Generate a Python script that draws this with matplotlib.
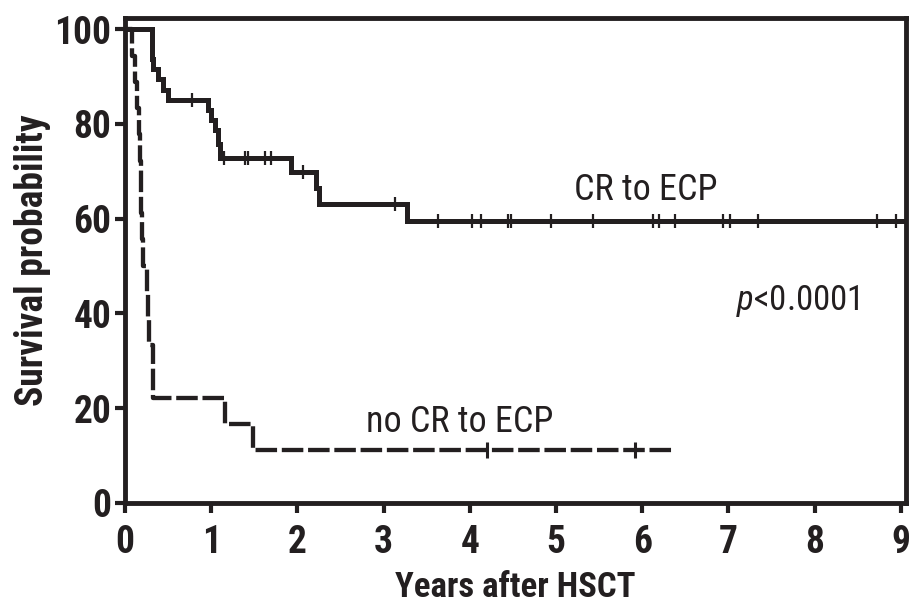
import matplotlib
matplotlib.use("Agg")
import matplotlib.pyplot as plt
from matplotlib import font_manager as fm
import numpy as np

# Pick a narrow sans-serif face for all text, with DejaVu Sans as the fallback
_installed = {f.name for f in fm.fontManager.ttflist}
_stretch = 'normal'
for _name in ['Liberation Sans Narrow', 'Roboto Condensed', 'Open Sans Condensed',
              'Noto Sans Condensed', 'DejaVu Sans Condensed']:
    if _name in _installed:
        FAMILY = _name
        break
else:
    FAMILY = 'DejaVu Sans'
    if any(f.name == 'DejaVu Sans' and f.stretch in ('condensed', 'semi-condensed')
           for f in fm.fontManager.ttflist):
        _stretch = 'condensed'

plt.rcParams['font.family'] = [FAMILY, 'DejaVu Sans']
plt.rcParams['font.stretch'] = _stretch
plt.rcParams['mathtext.fontset'] = 'custom'
plt.rcParams['mathtext.rm'] = FAMILY
plt.rcParams['mathtext.it'] = FAMILY + ':italic'

INK = '#231f20'

# Kaplan-Meier estimates: step times (years) and survival (%) after each step
cr_times = [0.0, 0.31, 0.33, 0.38, 0.44, 0.50, 0.96, 1.00, 1.04, 1.08, 1.10,
            1.92, 2.22, 2.25, 3.27]
cr_surv = [100.0, 93.6, 91.5, 89.4, 87.2, 85.1, 83.0, 80.8, 78.7, 75.8, 72.9,
           69.9, 66.5, 63.1, 59.6]
cr_end = 9.01
cr_censor = [0.78, 1.15, 1.39, 1.43, 1.62, 1.69, 2.07, 3.13, 3.63, 4.02, 4.13,
             4.44, 4.48, 4.94, 5.43, 6.13, 6.19, 6.38, 6.94, 7.02, 7.34, 8.72,
             8.95]

nocr_times = [0.0, 0.08, 0.12, 0.14, 0.16, 0.17, 0.18, 0.19, 0.20, 0.21, 0.26,
              0.27, 0.28, 0.32, 0.33, 1.16, 1.49]
nocr_surv = [100.0, 94.4, 88.9, 83.3, 77.8, 72.2, 66.7, 61.1, 55.6, 50.0, 44.4,
             38.9, 33.3, 27.8, 22.2, 16.7, 11.1]
nocr_end = 6.35
nocr_censor = [4.20, 5.92]

x_ticks = [0, 1, 2, 3, 4, 5, 6, 7, 8, 9]
y_ticks = [0, 20, 40, 60, 80, 100]


def step_curve(times, surv, end):
    xs = list(times) + [end]
    ys = list(surv) + [surv[-1]]
    return np.array(xs), np.array(ys)


def surv_at(times, surv, t):
    idx = np.searchsorted(times, t, side='right') - 1
    return np.array(surv)[idx]


fig = plt.figure(figsize=(9.22, 6.06), dpi=100)
ax = fig.add_axes([0.1356, 0.170, 0.8470, 0.800])

x, y = step_curve(cr_times, cr_surv, cr_end)
ax.step(x, y, where='post', color=INK, lw=3.6, solid_joinstyle='miter',
        zorder=3)
ax.plot(cr_censor, surv_at(cr_times, cr_surv, cr_censor), ls='none',
        marker='|', ms=10, mew=1.6, color=INK, zorder=4)

x, y = step_curve(nocr_times, nocr_surv, nocr_end)
ax.step(x, y, where='post', color=INK, lw=3.1, ls=(0, (5.0, 1.1)),
        zorder=3)
ax.plot(nocr_censor, surv_at(nocr_times, nocr_surv, nocr_censor), ls='none',
        marker='|', ms=11, mew=2.2, color=INK, zorder=4)

ax.set_xlim(0, 9.06)
ax.set_ylim(0, 102.3)
ax.set_xticks(x_ticks)
ax.set_yticks(y_ticks)

for s in ax.spines.values():
    s.set_linewidth(3.5)
    s.set_color(INK)

ax.tick_params(direction='out', length=7, width=3.0, color=INK)
ax.tick_params(axis='x', pad=8)
ax.tick_params(axis='y', pad=3)
for lab in ax.get_xticklabels() + ax.get_yticklabels():
    lab.set_fontsize(27)
    lab.set_fontweight('bold')
    lab.set_color(INK)

ax.set_xlabel('Years after HSCT', fontsize=25, fontweight='bold', color=INK,
              labelpad=7)
ax.set_ylabel('Survival probability', fontsize=27, fontweight='bold',
              color=INK, labelpad=2)

ax.text(6.04, 63.9, 'CR to ECP', fontsize=26, color=INK, ha='center',
        va='baseline')
ax.text(7.80, 40.7, r'$\it{p}$<0.0001', fontsize=25, color=INK, ha='center',
        va='baseline')
ax.text(3.88, 15.0, 'no CR to ECP', fontsize=26, color=INK, ha='center',
        va='baseline')

fig.savefig('out.png', dpi=100)
